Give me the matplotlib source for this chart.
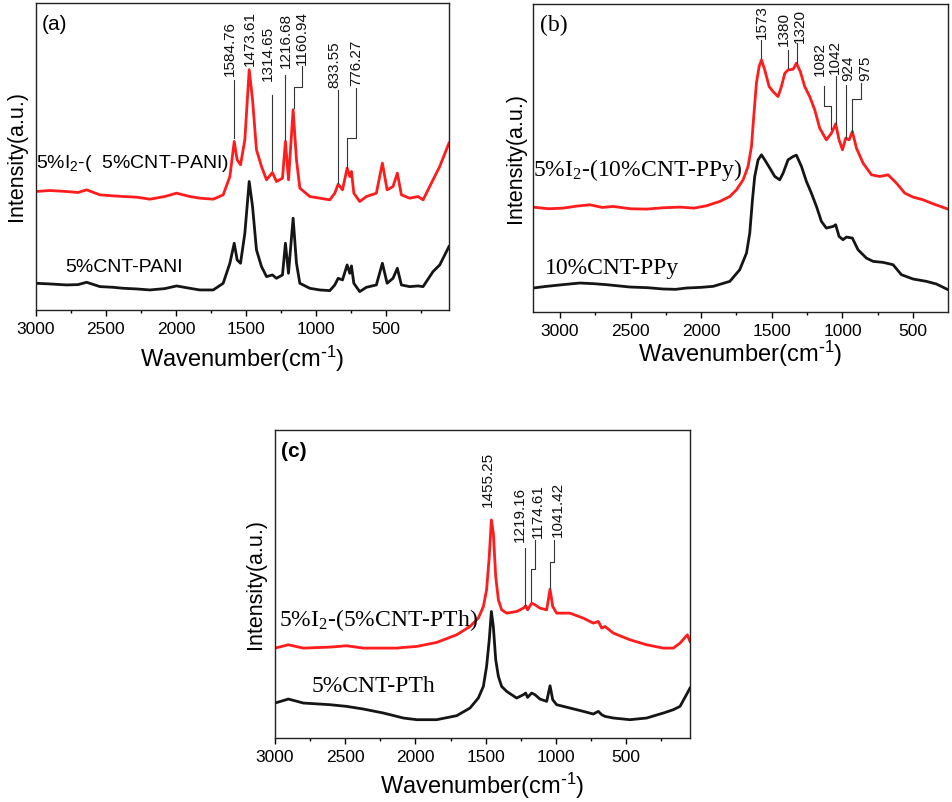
import matplotlib
matplotlib.use("Agg")
import matplotlib.pyplot as plt
from matplotlib.ticker import MultipleLocator

plt.rcParams['font.family'] = ['Liberation Sans', 'DejaVu Sans']

# ---------------- Panel (a): CNT-PANI ----------------
a_wn = [3000, 2900, 2781, 2700, 2638, 2543, 2450, 2376, 2280, 2186, 2080, 1995, 1900, 1829,
        1733, 1662, 1614, 1583, 1562, 1538, 1507, 1476, 1452, 1424, 1388, 1352, 1310,
        1281, 1238, 1217, 1195, 1162, 1138, 1114, 1043, 971, 900, 864, 840, 809, 776,
        757, 745, 728, 686, 638, 567, 524, 490, 448, 417, 388, 329, 269, 233, 162, 114, 48]
a_red = [35.5, 35.8, 35.5, 35.2, 36.0, 34.5, 34.2, 34.0, 33.8, 33.2, 34.0, 35.0, 34.0, 33.5,
         33.2, 34.5, 40.0, 50.5, 45.0, 43.5, 51.0, 72.0, 63.0, 48.0, 43.0, 39.0, 41.2,
         38.5, 39.5, 50.5, 39.0, 60.0, 45.0, 36.5, 34.0, 33.5, 33.0, 35.0, 37.7, 36.0,
         42.5, 40.0, 41.5, 35.0, 32.5, 34.0, 35.0, 44.0, 36.0, 37.0, 41.0, 34.5, 33.5,
         34.0, 33.0, 39.0, 43.0, 50.0]
a_black = [8.0, 7.8, 7.5, 7.6, 8.3, 7.0, 6.8, 6.5, 6.3, 6.0, 6.4, 7.2, 6.5, 6.0,
           6.0, 8.0, 14.0, 20.0, 15.0, 14.0, 23.0, 38.5, 31.0, 18.0, 13.0, 10.0, 10.5,
           9.5, 10.5, 20.0, 11.0, 27.5, 14.0, 8.0, 6.5, 6.0, 5.8, 7.5, 9.5, 9.0, 13.5,
           11.0, 13.2, 8.0, 5.5, 6.8, 7.5, 14.0, 8.0, 9.5, 12.5, 7.5, 7.0, 7.2, 7.0,
           11.5, 13.5, 19.0]
a_labels = ['1584.76', '1473.61', '1314.65', '1216.68', '1160.94', '833.55', '776.27']
a_label_x = [1614, 1471, 1340, 1214, 1102, 864, 714]
a_label_y = [70.2, 73.0, 68.5, 72.5, 73.5, 66.5, 67.0]
a_leaders = [
    ([1583, 1583], [69.0, 51.5]),
    None,
    ([1310, 1310], [64.5, 42.0]),
    ([1221, 1221], [70.5, 51.0]),
    ([1095, 1095, 1157, 1157], [73.0, 66.8, 66.8, 60.5]),
    ([840, 840], [66.0, 38.0]),
    ([714, 714, 776, 776], [66.5, 51.5, 51.5, 42.5]),
]

# ---------------- Panel (b): CNT-PPy ----------------
b_wn_red = [3189, 3080, 2976, 2880, 2788, 2700, 2623, 2500, 2387, 2270, 2151, 2050, 1962,
            1868, 1797, 1750, 1703, 1668, 1644, 1628, 1609, 1590, 1573, 1550, 1519, 1491,
            1456, 1432, 1408, 1385, 1349, 1326, 1298, 1267, 1232, 1196, 1161, 1114, 1078,
            1048, 1024, 1000, 977, 953, 930, 901, 854, 795, 736, 677, 618, 559, 500, 430,
            359, 253]
b_red = [31.5, 31.0, 31.2, 31.8, 32.2, 31.4, 31.7, 31.0, 30.9, 31.3, 31.5, 31.2, 31.9,
         33.2, 34.7, 36.7, 39.7, 43.7, 49.7, 58.7, 68.7, 73.7, 75.7, 72.7, 67.7, 66.2,
         64.7, 67.7, 71.7, 72.7, 72.9, 74.7, 72.2, 67.7, 64.7, 60.7, 55.2, 51.7, 53.7,
         56.5, 51.7, 48.7, 52.2, 51.7, 54.2, 49.2, 44.7, 41.2, 40.7, 41.2, 38.7, 35.7,
         34.5, 33.7, 32.5, 30.9]
b_wn_black = [3189, 3094, 2980, 2859, 2760, 2670, 2505, 2380, 2269, 2180, 2104, 2000, 1915,
              1797, 1727, 1679, 1656, 1637, 1621, 1597, 1573, 1550, 1514, 1479, 1444, 1420,
              1385, 1349, 1326, 1290, 1255, 1220, 1184, 1149, 1114, 1066, 1048, 1024, 996,
              972, 930, 890, 831, 783, 713, 642, 583, 500, 406, 335, 253]
b_black = [7.2, 7.7, 8.2, 8.7, 8.5, 8.2, 7.5, 7.3, 6.9, 6.8, 7.2, 7.4, 7.7,
           9.2, 12.7, 17.7, 23.7, 33.7, 40.7, 45.7, 47.2, 45.7, 43.2, 40.7, 39.7, 41.7,
           45.7, 46.7, 47.1, 43.7, 39.2, 35.7, 31.7, 27.2, 25.2, 25.7, 26.2, 22.7, 21.7,
           22.5, 22.2, 18.7, 16.2, 15.2, 14.9, 14.2, 11.2, 9.9, 9.2, 8.4, 6.7]
b_labels = ['1573', '1380', '1320', '1082', '1042', '924', '975']
b_label_x = [1573, 1415, 1298, 1161, 1055, 960, 842]
b_label_y = [81.9, 79.9, 80.9, 70.9, 71.5, 69.4, 69.4]
b_leaders = [
    ([1573, 1573], [81.7, 76.2]),
    ([1385, 1385], [78.7, 73.2]),
    ([1321, 1321], [80.7, 74.9]),
    ([1130, 1130, 1078, 1078], [67.8, 61.9, 61.9, 55.0]),
    ([1048, 1048], [70.9, 56.5]),
    ([977, 977], [68.2, 52.2]),
    ([866, 866, 930, 930], [68.9, 63.9, 63.9, 54.2]),
]

# ---------------- Panel (c): CNT-PTh ----------------
c_wn = [3000, 2905, 2798, 2608, 2490, 2371, 2228, 2133, 2086, 1991, 1849, 1706, 1611,
        1552, 1516, 1493, 1474, 1459, 1445, 1428, 1409, 1386, 1350, 1279, 1231, 1215,
        1201, 1172, 1148, 1113, 1065, 1041, 1022, 994, 899, 804, 733, 697, 673, 650,
        590, 472, 353, 234, 163, 115, 63, 44]
c_red = [27.0, 28.0, 27.0, 27.3, 27.7, 27.0, 27.0, 27.0, 27.2, 27.5, 28.7, 31.0, 33.5,
         36.0, 39.5, 44.5, 54.5, 65.5, 61.5, 48.5, 41.5, 38.5, 37.5, 38.0, 39.0, 39.7,
         38.5, 40.5, 40.0, 39.0, 38.5, 44.7, 39.5, 37.5, 37.5, 36.0, 34.5, 35.0, 33.0,
         33.5, 31.5, 29.5, 28.0, 27.0, 27.0, 28.5, 31.0, 29.0]
c_black = [10.5, 11.7, 10.5, 10.0, 9.5, 8.7, 7.5, 6.5, 6.0, 5.5, 5.5, 6.7, 9.0,
           12.0, 15.5, 21.5, 29.5, 38.0, 33.5, 23.5, 18.5, 15.5, 14.0, 12.0, 13.0, 13.5,
           12.2, 13.5, 13.0, 11.7, 11.0, 15.7, 11.5, 10.0, 9.0, 8.0, 7.2, 8.0, 7.0,
           6.5, 6.0, 5.5, 6.0, 7.5, 8.5, 9.5, 13.5, 15.0]
c_labels = ['1455.25', '1219.16', '1174.61', '1041.42']
c_label_x = [1484, 1257, 1129, 986]
c_label_y = [69.5, 59.0, 60.0, 60.5]
c_leaders = [
    None,
    ([1219, 1219], [57.0, 40.0]),
    ([1148, 1148, 1177, 1177], [59.5, 50.7, 50.7, 41.0]),
    ([1015, 1015, 1041, 1041], [59.5, 53.0, 53.0, 45.0]),
]

RED = '#ff1c1c'
BLACK = '#151515'
SERIF = ['Liberation Serif', 'DejaVu Serif']

fig = plt.figure(figsize=(9.52, 8.02), dpi=100)

def style_axes(ax, xlim, ylim, labelpad):
    ax.set_xlim(*xlim)
    ax.set_ylim(*ylim)
    ax.set_yticks([])
    ax.xaxis.set_major_locator(MultipleLocator(500))
    ax.xaxis.set_minor_locator(MultipleLocator(250))
    ax.tick_params(axis='x', which='major', direction='out', length=4, width=1,
                   labelsize=12.5, pad=4.5, top=False)
    ax.tick_params(axis='x', which='minor', direction='out', length=2.5, width=1, top=False)
    for s in ax.spines.values():
        s.set_linewidth(1.0)
        s.set_color('#222222')
    ax.set_xlabel('Wavenumber(cm$\\mathregular{^{\\text{-}1}}$)', fontsize=17, labelpad=labelpad)
    ax.set_ylabel('Intensity(a.u.)', fontsize=15.5, labelpad=2)

def annotate(ax, labels, lx, ly, leaders, fs=11):
    for t, x, y, ld in zip(labels, lx, ly, leaders):
        ax.text(x, y, t, rotation=90, ha='center', va='bottom', fontsize=fs,
                color='#111111')
        if ld is not None:
            ax.plot(ld[0], ld[1], color='#333333', lw=0.8)

# (a)
ax1 = fig.add_axes([0.0378, 0.6135, 0.4338, 0.3828])
ax1.plot(a_wn, a_red, color=RED, lw=2.0)
ax1.plot(a_wn, a_black, color=BLACK, lw=2.0)
style_axes(ax1, (3000, 48), (0, 92), 5)
ax1.yaxis.set_label_coords(-0.022, 0.5)
annotate(ax1, a_labels, a_label_x, a_label_y, a_leaders, fs=11)
ax1.text(0.015, 0.93, '(a)', transform=ax1.transAxes, fontsize=15, va='center')
ax1.text(3000, 44, '5%I$\\mathregular{_2}$-(  5%CNT-PANI)', fontsize=14, va='center', ha='left')
ax1.text(2790, 12.8, '5%CNT-PANI', fontsize=14, va='center', ha='left')

# (b)
ax2 = fig.add_axes([0.5599, 0.611, 0.4359, 0.384])
ax2.plot(b_wn_red, b_red, color=RED, lw=2.0)
ax2.plot(b_wn_black, b_black, color=BLACK, lw=2.0)
style_axes(ax2, (3190, 253), (0, 92.5), 0)
ax2.yaxis.set_label_coords(-0.017, 0.5)
annotate(ax2, b_labels, b_label_x, b_label_y, b_leaders, fs=11)
ax2.text(0.017, 0.93, '(b)', transform=ax2.transAxes, fontsize=17, va='center', family=SERIF)
ax2.text(3189, 42.5, '5%I$\\mathregular{_2}$-(10%CNT-PPy)', fontsize=17, va='center', ha='left',
         family=SERIF)
ax2.text(3105, 13.0, '10%CNT-PPy', fontsize=17, va='center', ha='left', family=SERIF)

# (c)
ax3 = fig.add_axes([0.2889, 0.0798, 0.4359, 0.384])
ax3.plot(c_wn, c_red, color=RED, lw=2.0)
ax3.plot(c_wn, c_black, color=BLACK, lw=2.0)
style_axes(ax3, (3000, 44), (0, 92.5), 4)
ax3.yaxis.set_label_coords(-0.022, 0.5)
annotate(ax3, c_labels, c_label_x, c_label_y, c_leaders, fs=11)
ax3.text(0.015, 0.93, '(c)', transform=ax3.transAxes, fontsize=15, va='center',
         fontweight='bold')
ax3.text(2975, 35.5, '5%I$\\mathregular{_2}$-(5%CNT-PTh)', fontsize=17, va='center', ha='left',
         family=SERIF)
ax3.text(2740, 15.5, '5%CNT-PTh', fontsize=17, va='center', ha='left', family=SERIF)

fig.savefig('out.png', dpi=100)
